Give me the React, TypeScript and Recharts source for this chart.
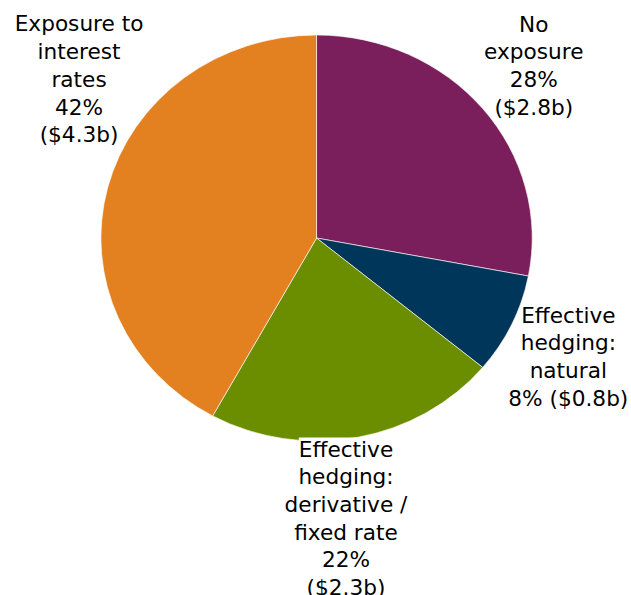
import React from 'react';
import { PieChart, Pie, Cell } from 'recharts';

// Slices go clockwise from 12 o'clock
const categories = [
  'No exposure',
  'Effective hedging: natural',
  'Effective hedging: derivative / fixed rate',
  'Exposure to interest rates',
];
const nameLines = [
  ['No', 'exposure'],
  ['Effective', 'hedging:', 'natural'],
  ['Effective', 'hedging:', 'derivative /', 'fixed rate'],
  ['Exposure to', 'interest', 'rates'],
];
const shares = [28, 8, 22, 42];
const amounts = ['2.8', '0.8', '2.3', '4.3'];
const valueOnOneLine = [false, true, false, false];

const colors = ['#7A1F5B', '#00365A', '#6B8E00', '#E38121'];

const pieData = categories.map((name, i) => ({ name, value: shares[i] }));

// the original picture is stretched sideways, so the pie is drawn a bit narrow and scaled
const STRETCH = 631 / 594;
const CHART_W = 594;
const CHART_H = 595;

const FONT = 'DejaVu Sans';
const FONT_SIZE = 21;
const LABEL_GAP = 65;
const LINE_H = 27.7;
const BASELINE_SHIFT = 7.5;
const TEXT_SX = 0.97;
// Excel moved some labels away from their slice's middle
const LABEL_NUDGE: [number, number][] = [
  [-2, -1.5],
  [-5.5, 4.5],
  [-22.5, 17],
  [36, -92],
];

let ctx: CanvasRenderingContext2D | null = null;
const textWidth = (s: string) => {
  if (!ctx) ctx = document.createElement('canvas').getContext('2d');
  if (!ctx) return s.length * FONT_SIZE * 0.6;
  ctx.font = `${FONT_SIZE}px "${FONT}"`;
  return ctx.measureText(s).width;
};

const buildLines = (i: number) => {
  const pct = `${shares[i]}%`;
  const amt = `($${amounts[i]}b)`;
  return valueOnOneLine[i]
    ? [...nameLines[i], `${pct} ${amt}`]
    : [...nameLines[i], pct, amt];
};

const renderLabel = (props: any) => {
  const { cx, cy, midAngle, outerRadius, index } = props;
  const rad = (midAngle * Math.PI) / 180;
  const r = outerRadius + LABEL_GAP;
  const x = cx + r * Math.cos(rad) + LABEL_NUDGE[index][0];
  const y = cy - r * Math.sin(rad) + LABEL_NUDGE[index][1];
  const lines = buildLines(index);
  const first = -((lines.length - 1) / 2) * LINE_H + BASELINE_SHIFT;
  return (
    <g transform={`translate(${x} ${y}) scale(${TEXT_SX} 1)`}>
      {/* white box behind each line, like the label background in the original */}
      {lines.map((l, k) => {
        const w = textWidth(l);
        return (
          <rect key={'bg' + k} x={-w / 2} y={first + k * LINE_H - 19} width={w} height={LINE_H} fill="#ffffff" />
        );
      })}
      <text textAnchor="middle" fontFamily={FONT} fontSize={FONT_SIZE} fill="#000">
        {lines.map((l, k) => (
          <tspan key={k} x={0} y={first + k * LINE_H}>
            {l}
          </tspan>
        ))}
      </text>
    </g>
  );
};

export default function App() {
  return (
    <div style={{ position: 'absolute', left: 0, top: 0, width: 631, height: 595, overflow: 'hidden', background: '#fff' }}>
      <div style={{ width: CHART_W, height: CHART_H, transform: `scaleX(${STRETCH})`, transformOrigin: '0 0' }}>
        <PieChart width={CHART_W} height={CHART_H} margin={{ top: 0, right: 0, bottom: 0, left: 0 }}>
          <Pie
            data={pieData}
            dataKey="value"
            nameKey="name"
            cx={298}
            cy={238}
            outerRadius={203}
            startAngle={90}
            endAngle={-270}
            stroke="#ffffff"
            strokeWidth={0.6}
            label={renderLabel}
            labelLine={false}
            isAnimationActive={false}
          >
            {pieData.map((d, i) => (
              <Cell key={d.name} fill={colors[i]} />
            ))}
          </Pie>
        </PieChart>
      </div>
    </div>
  );
}
